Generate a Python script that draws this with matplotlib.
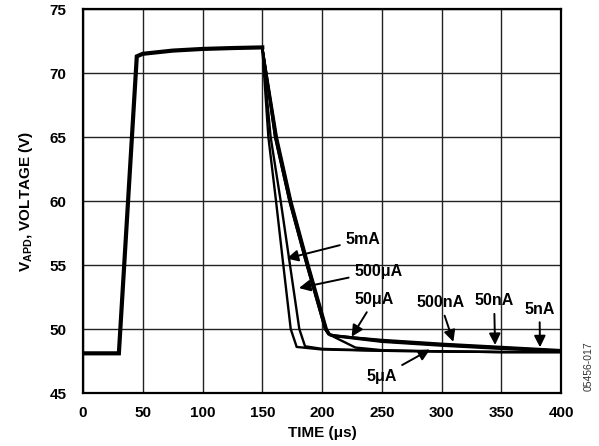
import matplotlib
matplotlib.use("Agg")
import matplotlib.pyplot as plt

plt.rcParams['font.family'] = ['Liberation Sans', 'DejaVu Sans']
plt.rcParams['font.weight'] = 'bold'
plt.rcParams['mathtext.fontset'] = 'custom'
plt.rcParams['mathtext.rm'] = 'Liberation Sans:bold'
plt.rcParams['mathtext.it'] = 'Liberation Sans:bold'
plt.rcParams['mathtext.bf'] = 'Liberation Sans:bold'

# shared part: idle level, step up, plateau
t_common = [0, 30, 45, 50, 75, 100, 125, 150]
v_common = [48.1, 48.1, 71.3, 71.5, 71.75, 71.88, 71.95, 72.0]

# decay after the pulse, one per load current
t_5mA = [155.1, 161.5, 167.6, 173.8, 178.8, 200, 250, 300, 350, 400]
v_5mA = [65.0, 60.0, 55.0, 50.0, 48.6, 48.4, 48.3, 48.25, 48.2, 48.2]
t_500uA = [157, 165.4, 173.2, 181, 185.8, 200, 250, 300, 350, 400]
v_500uA = [65.0, 60.0, 55.0, 50.0, 48.65, 48.45, 48.3, 48.25, 48.2, 48.2]
t_5uA = [160.7, 172.7, 187.2, 202.5, 205.3, 228, 250, 300, 350, 400]
v_5uA = [65.0, 60.0, 55.0, 50.0, 49.6, 48.55, 48.35, 48.25, 48.2, 48.2]
t_50uA = [160.7, 172.7, 187.2, 202.5, 205.3, 210, 225, 250, 300, 350, 400]
v_50uA = [65.0, 60.0, 55.0, 50.0, 49.6, 49.5, 49.35, 49.15, 48.85, 48.6, 48.35]
t_500nA = [161.2, 173.2, 187.7, 203, 206, 210, 250, 300, 350, 400]
v_500nA = [65.0, 60.0, 55.0, 50.0, 49.6, 49.5, 49.1, 48.8, 48.55, 48.3]
t_50nA = [161.7, 173.7, 188.2, 203.5, 206.5, 212, 250, 300, 350, 400]
v_50nA = [65.0, 60.0, 55.0, 50.0, 49.55, 49.45, 49.05, 48.75, 48.5, 48.28]
t_5nA = [162.2, 174.2, 188.7, 204, 207, 214, 250, 300, 350, 400]
v_5nA = [65.0, 60.0, 55.0, 50.0, 49.5, 49.4, 49.0, 48.7, 48.45, 48.25]

curves = [
    (t_5mA, v_5mA),
    (t_500uA, v_500uA),
    (t_5uA, v_5uA),
    (t_50uA, v_50uA),
    (t_500nA, v_500nA),
    (t_50nA, v_50nA),
    (t_5nA, v_5nA),
]

# labels: text, text position, arrow tip
labels = ["5mA", "500μA", "50μA", "5μA", "500nA", "50nA", "5nA"]
label_xy = [(234, 57.0), (247, 54.5), (244, 52.3), (250, 46.3),
            (299, 52.05), (344, 52.2), (382, 51.55)]
tip_xy = [(170.4, 55.5), (180.7, 53.2), (224.8, 49.4), (290.4, 48.4),
          (309.9, 49.0), (344.8, 48.75), (382.4, 48.57)]

fig = plt.figure(figsize=(5.99, 4.46), dpi=100)
ax = fig.add_axes([0.1386, 0.1188, 0.798, 0.861])

ax.plot(t_common, v_common, color='black', lw=3.0, solid_joinstyle='miter')
for t, v in curves:
    ax.plot(t_common[-1:] + t, v_common[-1:] + v, color='black', lw=1.7,
            solid_joinstyle='miter')

for txt, xy, tip in zip(labels, label_xy, tip_xy):
    ax.annotate(txt, xy=tip, xytext=xy, ha='center', va='center',
                fontsize=11.5, fontweight='bold',
                arrowprops=dict(arrowstyle='-|>', color='black', lw=1.4,
                                mutation_scale=17, shrinkA=2, shrinkB=0))

ax.set_xlim(0, 400)
ax.set_ylim(45, 75)
ax.set_xticks(range(0, 401, 50))
ax.set_yticks(range(45, 76, 5))
ax.grid(True, color='#222222', lw=1.0)
ax.tick_params(length=0, labelsize=11)
ax.tick_params(axis='x', pad=9)
ax.tick_params(axis='y', pad=12)
for lab in ax.get_xticklabels() + ax.get_yticklabels():
    lab.set_fontweight('bold')
for s in ax.spines.values():
    s.set_linewidth(1.6)

ax.set_xlabel("TIME (μs)", fontsize=11, fontweight='bold', labelpad=5)
ax.set_ylabel(r"V$_{APD}$, VOLTAGE (V)", fontsize=11, fontweight='bold',
              labelpad=10)

fig.text(0.983, 0.18, "05456-017", rotation=90, fontsize=7.5,
         fontweight='normal', color='#333333', ha='center', va='center')

fig.savefig("out.png", dpi=100)
